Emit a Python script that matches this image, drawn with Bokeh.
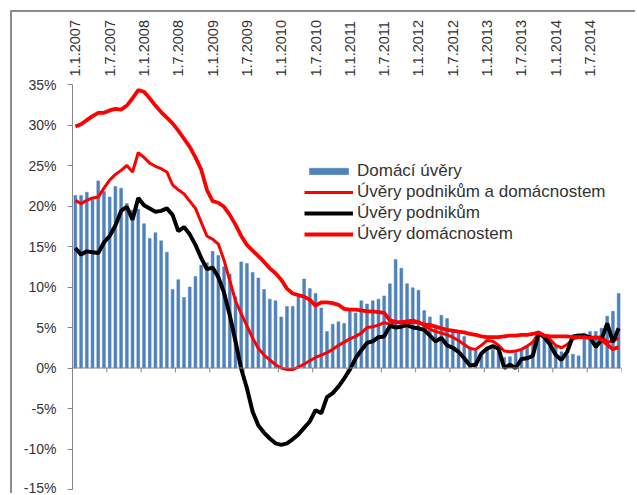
import math
from bokeh.plotting import figure
from bokeh.models import (ColumnDataSource, FixedTicker, PrintfTickFormatter,
                          Range1d, Legend, LegendItem, Span)
from bokeh.embed import file_html
from bokeh.resources import INLINE

# ---- data (monthly, 1/2007 .. 12/2014, % y/y) ----
tick_labels = ["1.1.2007", "1.7.2007", "1.1.2008", "1.7.2008", "1.1.2009", "1.7.2009",
               "1.1.2010", "1.7.2010", "1.1.2011", "1.7.2011", "1.1.2012", "1.7.2012",
               "1.1.2013", "1.7.2013", "1.1.2014", "1.7.2014"]

domaci_uvery = [
    21.3, 21.3, 21.7, 20.8, 23.1, 21.8, 21.1, 22.4, 22.2, 20.3, 19.5, 19.6,
    17.8, 16.0, 16.7, 15.7, 14.3, 9.7, 10.9, 8.7, 10.0, 11.3, 12.7, 13.0,
    14.4, 13.9, 12.5, 11.6, 8.8, 13.1, 12.9, 11.8, 11.1, 9.7, 8.5, 8.3,
    6.3, 7.6, 7.6, 8.8, 11.0, 9.8, 9.2, 7.4, 4.5, 5.4, 5.7, 5.5,
    7.0, 6.8, 8.3, 7.9, 8.3, 8.5, 8.9, 10.4, 13.4, 12.3, 10.4, 9.9,
    9.6, 7.1, 6.3, 5.3, 6.5, 6.1, 4.5, 4.3, 3.9, 2.6, 2.2, 1.8,
    2.2, 2.3, 2.5, 1.3, 1.4, 1.9, 2.2, 2.6, 3.2, 4.5, 4.0, 3.6,
    2.8, 2.0, 1.6, 1.7, 1.5, 4.3, 4.5, 4.5, 4.9, 6.4, 7.0, 9.2,
]

uvery_podnikum_a_domacnostem = [
    20.7, 20.3, 20.7, 21.0, 21.1, 22.2, 23.2, 23.9, 24.4, 25.0, 24.2, 26.6,
    26.0, 25.3, 24.9, 24.6, 24.2, 22.6, 22.0, 21.5, 20.6, 19.7, 18.0, 16.3,
    15.9, 15.3, 13.3, 10.8, 8.3, 6.7, 5.2, 3.7, 2.4, 1.6, 1.0, 0.4,
    0.0, -0.2, -0.2, 0.1, 0.5, 0.9, 1.3, 1.6, 1.9, 2.3, 2.8, 3.2,
    3.6, 3.9, 4.3, 5.0, 5.1, 5.3, 5.6, 5.4, 5.6, 5.7, 5.8, 5.9,
    5.7, 5.2, 4.8, 4.5, 4.3, 4.1, 3.8, 3.4, 2.9, 2.4, 2.3, 2.8,
    3.4, 3.3, 2.8, 2.1, 2.0, 2.1, 2.3, 2.7, 3.2, 4.3, 4.0, 3.5,
    2.8, 2.5, 2.9, 3.6, 3.8, 3.8, 3.8, 3.7, 3.9, 3.2, 3.3, 3.7,
]

uvery_podnikum = [
    14.8, 14.0, 14.4, 14.3, 14.2, 15.5, 16.3, 17.6, 19.4, 19.9, 18.3, 21.0,
    20.1, 19.7, 19.3, 19.4, 19.7, 18.9, 16.9, 17.4, 16.5, 15.2, 13.6, 12.2,
    12.4, 11.2, 9.3, 6.5, 3.3, -0.1, -2.5, -5.4, -7.1, -8.0, -8.7, -9.3,
    -9.5, -9.3, -8.8, -8.2, -7.4, -6.6, -5.2, -5.6, -3.6, -3.1, -2.3, -1.3,
    -0.2, 1.2, 2.2, 3.1, 3.3, 3.8, 3.9, 5.2, 5.0, 5.1, 5.3, 5.0,
    4.9, 4.7, 4.0, 3.3, 3.7, 2.8, 2.5, 2.0, 1.2, 0.3, 0.4, 1.8,
    2.4, 2.7, 2.4, 0.0, 0.4, 0.0, 1.1, 1.2, 1.5, 4.3, 3.8, 2.9,
    1.6, 1.0, 2.0, 3.9, 4.0, 4.0, 3.8, 2.6, 3.5, 5.5, 3.2, 4.9,
]

uvery_domacnostem = [
    29.8, 30.1, 30.6, 31.1, 31.5, 31.5, 31.8, 32.0, 31.9, 32.4, 33.3, 34.3,
    34.1, 33.3, 32.4, 31.6, 30.9, 30.2, 29.3, 28.3, 27.3, 26.0, 24.5, 22.0,
    20.6, 20.4, 19.9, 18.9, 17.7, 16.3, 15.2, 14.5, 13.8, 13.1, 12.3, 11.7,
    10.9, 9.8, 9.2, 9.0, 8.8, 8.4, 7.7, 8.1, 8.1, 8.0, 7.8, 7.3,
    7.2, 7.2, 7.1, 7.0, 7.0, 6.9, 6.8, 5.9, 5.7, 5.6, 5.6, 5.7,
    5.6, 5.4, 5.3, 5.1, 4.9, 4.7, 4.6, 4.5, 4.4, 4.2, 4.1, 3.9,
    3.8, 3.8, 3.8, 3.9, 4.0, 4.0, 4.1, 4.1, 4.2, 4.4, 4.0, 3.9,
    3.9, 3.9, 3.9, 3.8, 3.8, 3.8, 3.7, 3.8, 3.5, 2.9, 2.3, 2.6,
]

y_ticks = [-15, -10, -5, 0, 5, 10, 15, 20, 25, 30, 35]

# ---- derived positions ----
n = len(domaci_uvery)
months_per_label = 6
xs = [i + 0.5 for i in range(n)]
label_pos = [i * months_per_label + 0.5 for i in range(len(tick_labels))]
bounds = list(range(0, n + 1, months_per_label))

src = ColumnDataSource(dict(x=xs, dom=domaci_uvery, tot=uvery_podnikum_a_domacnostem,
                            pod=uvery_podnikum, hh=uvery_domacnostem))

FONT = "Liberation Sans"
GRAY = "#868686"
TXT = "#333333"

p = figure(width=625, height=483, output_backend="svg", toolbar_location=None,
           x_range=Range1d(0, n), y_range=Range1d(y_ticks[0], y_ticks[-1]),
           x_axis_location="above",
           min_border_left=60, min_border_right=16, min_border_top=72, min_border_bottom=6)
p.styles = {"position": "relative", "left": "12px", "top": "12px",
            "box-shadow": "-2px -2px 0 0 #8c8c8c"}
p.outline_line_color = None
p.grid.visible = False
p.background_fill_color = "white"
p.border_fill_color = "white"

# top axis with rotated date labels
xa = p.xaxis[0]
xa.ticker = FixedTicker(ticks=label_pos)
xa.major_label_overrides = {pos: lab for pos, lab in zip(label_pos, tick_labels)}
xa.major_label_orientation = math.pi / 2
xa.axis_line_color = None
xa.major_tick_line_color = None
xa.minor_tick_line_color = None
xa.major_tick_out = 0
xa.major_label_standoff = 8
xa.major_label_text_font = FONT
xa.major_label_text_font_size = "14.5px"
xa.major_label_text_color = TXT

ya = p.yaxis[0]
ya.ticker = FixedTicker(ticks=y_ticks)
ya.formatter = PrintfTickFormatter(format="%d%%")
ya.axis_line_color = GRAY
ya.major_tick_line_color = GRAY
ya.major_tick_out = 5
ya.major_tick_in = 0
ya.minor_tick_line_color = None
ya.major_label_standoff = 11
ya.major_label_text_font = FONT
ya.major_label_text_font_size = "14px"
ya.major_label_text_color = TXT

bars = p.vbar(x="x", top="dom", bottom=0, width=0.5, source=src,
              fill_color="#4f81bd", line_color="#4f81bd", line_width=0.5)

p.add_layout(Span(location=0, dimension="width", line_color=GRAY, line_width=1))
p.segment(x0=bounds, y0=[0] * len(bounds), x1=bounds, y1=[-0.55] * len(bounds),
          line_color=GRAY, line_width=1)

l_tot = p.line("x", "tot", source=src, line_color="#ff0000", line_width=3)
l_pod = p.line("x", "pod", source=src, line_color="#000000", line_width=4)
l_hh = p.line("x", "hh", source=src, line_color="#ff0000", line_width=3.8)

legend = Legend(items=[
    LegendItem(label="Domácí úvěry", renderers=[bars]),
    LegendItem(label="Úvěry podnikům a domácnostem", renderers=[l_tot]),
    LegendItem(label="Úvěry podnikům", renderers=[l_pod]),
    LegendItem(label="Úvěry domácnostem", renderers=[l_hh]),
], location=(232, 245))
legend.label_text_font = FONT
legend.label_text_font_size = "17px"
legend.label_text_color = TXT
legend.glyph_width = 49
legend.glyph_height = 8
legend.label_height = 19
legend.label_standoff = 4
legend.spacing = 1
legend.padding = 0
legend.margin = 0
legend.border_line_color = None
legend.background_fill_alpha = 0
p.add_layout(legend)

open("out.html", "w").write(file_html(p, INLINE))
